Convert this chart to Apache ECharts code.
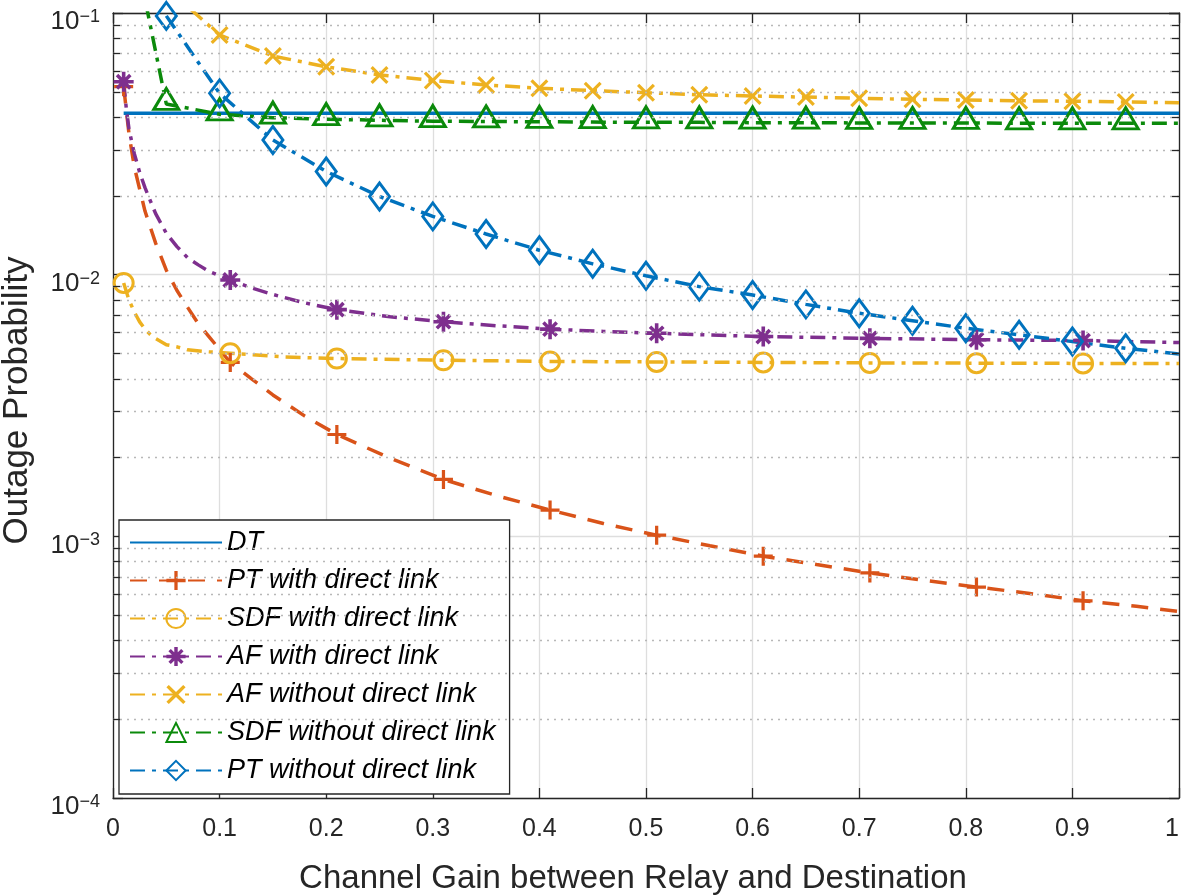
<!DOCTYPE html>
<html><head><meta charset="utf-8">
<script src="https://cdn.jsdelivr.net/npm/echarts@6/dist/echarts.min.js"></script>
<style>html,body{margin:0;padding:0;background:#fff}#c{width:1181px;height:895px}</style>
</head><body><div id="c"></div>
<script>
// ---------- tick values ----------
const xTicks = [0, 0.1, 0.2, 0.3, 0.4, 0.5, 0.6, 0.7, 0.8, 0.9, 1];
const yMajorTicks = [1e-4, 1e-3, 1e-2, 1e-1];
const yMinorTicks = [2e-4,3e-4,4e-4,5e-4,6e-4,7e-4,8e-4,9e-4,
                     2e-3,3e-3,4e-3,5e-3,6e-3,7e-3,8e-3,9e-3,
                     2e-2,3e-2,4e-2,5e-2,6e-2,7e-2,8e-2,9e-2];

// ---------- series data ----------
const dtX = [0.01, 1.0];
const dtY = [0.0414, 0.0414];

const ptWithX = [0.01,0.015,0.02,0.03,0.04,0.05,0.06,0.07,0.08,0.09,0.11,0.13,0.15,0.18,0.21,0.26,0.31,0.36,0.41,0.46,0.51,0.56,0.61,0.66,0.71,0.76,0.81,0.86,0.91,0.96,1.0];
const ptWithY = [0.0523,0.0345,0.0258,0.0175,0.0132,0.0104,0.0087,0.0075,0.0065,0.0058,0.00462,0.0040,0.00347,0.00288,0.00245,0.00199,0.00165,0.00143,0.00126,0.00112,0.00101,0.00092,0.00084,0.00078,0.000725,0.00068,0.00064,0.000605,0.000567,0.00054,0.000516];
const ptWithMarks = [0.01,0.11,0.21,0.31,0.41,0.51,0.61,0.71,0.81,0.91];

const sdfWithX = [0.01,0.015,0.02,0.025,0.03,0.035,0.04,0.05,0.06,0.07,0.09,0.11,0.16,0.21,0.31,0.41,0.51,0.61,0.71,0.81,0.91,1.0];
const sdfWithY = [0.0093,0.0080,0.0072,0.0066,0.0062,0.0059,0.0057,0.0054,0.0053,0.00516,0.00507,0.00501,0.00485,0.00478,0.00471,0.00466,0.00464,0.00462,0.0046,0.00459,0.00458,0.00458];
const sdfWithMarks = [0.01,0.11,0.21,0.31,0.41,0.51,0.61,0.71,0.81,0.91];

const afWithX = [0.01,0.0125,0.015,0.02,0.025,0.03,0.04,0.05,0.06,0.07,0.08,0.09,0.11,0.13,0.15,0.18,0.21,0.26,0.31,0.36,0.41,0.46,0.51,0.61,0.71,0.81,0.91,1.0];
const afWithY = [0.0546,0.043,0.036,0.029,0.0246,0.0215,0.0171,0.0144,0.0128,0.0116,0.0109,0.0103,0.00954,0.0089,0.0084,0.0078,0.00735,0.0069,0.00661,0.00638,0.00619,0.00607,0.00597,0.0058,0.00571,0.00564,0.0056,0.0055];
const afWithMarks = [0.01,0.11,0.21,0.31,0.41,0.51,0.61,0.71,0.81,0.91];

const afWithoutX = [0.05,0.1,0.15,0.2,0.25,0.3,0.35,0.4,0.45,0.5,0.55,0.6,0.65,0.7,0.75,0.8,0.85,0.9,0.95,1.0];
const afWithoutY = [0.125,0.0824,0.0685,0.0623,0.058,0.0552,0.0531,0.0516,0.0505,0.0496,0.0487,0.0482,0.0477,0.0472,0.0468,0.0465,0.0462,0.046,0.0457,0.0454];
const afWithoutMarks = [0.1,0.15,0.2,0.25,0.3,0.35,0.4,0.45,0.5,0.55,0.6,0.65,0.7,0.75,0.8,0.85,0.9,0.95];

const sdfWithoutX = [0,0.05,0.1,0.15,0.2,0.25,0.3,0.35,0.4,0.45,0.5,0.55,0.6,0.65,0.7,0.75,0.8,0.85,0.9,0.95,1.0];
const sdfWithoutY = [0.45,0.0449,0.0410,0.0398,0.0393,0.0389,0.0386,0.0385,0.0384,0.0383,0.0382,0.0382,0.0381,0.0381,0.0380,0.0380,0.0380,0.0379,0.0379,0.0379,0.0379];
const sdfWithoutMarks = [0.05,0.1,0.15,0.2,0.25,0.3,0.35,0.4,0.45,0.5,0.55,0.6,0.65,0.7,0.75,0.8,0.85,0.9,0.95];

const ptWithoutX = [0.05,0.1,0.15,0.2,0.25,0.3,0.35,0.4,0.45,0.5,0.55,0.6,0.65,0.7,0.75,0.8,0.85,0.9,0.95,1.0];
const ptWithoutY = [0.0975,0.0493,0.0327,0.0248,0.0199,0.0167,0.0143,0.0124,0.0110,0.0099,0.0090,0.00836,0.0077,0.00712,0.00667,0.00624,0.00589,0.00555,0.00523,0.00498];
const ptWithoutMarks = [0.05,0.1,0.15,0.2,0.25,0.3,0.35,0.4,0.45,0.5,0.55,0.6,0.65,0.7,0.75,0.8,0.85,0.9,0.95];

const seriesNames = ['DT','PT with direct link','SDF with direct link','AF with direct link',
  'AF without direct link','SDF without direct link','PT without direct link'];

// ---------- styles ----------
const FONT = 'Liberation Sans, Arial, Helvetica, sans-serif';
const AX = '#262626';
const LW = 3.5;
const PLUS = 'path://M-10,-1.7 L-1.7,-1.7 L-1.7,-10 L1.7,-10 L1.7,-1.7 L10,-1.7 L10,1.7 L1.7,1.7 L1.7,10 L-1.7,10 L-1.7,1.7 L-10,1.7 Z';
const XMARK = 'path://M-8,-6 L-6,-8 L0,-2 L6,-8 L8,-6 L2,0 L8,6 L6,8 L0,2 L-6,8 L-8,6 L-2,0 Z';
const STAR = 'path://M-10,-1.8 L-1.8,-1.8 L-1.8,-10 L1.8,-10 L1.8,-1.8 L10,-1.8 L10,1.8 L1.8,1.8 L1.8,10 L-1.8,10 L-1.8,1.8 L-10,1.8 Z ' +
             'M-7.9,-5.4 L-5.4,-7.9 L0,-2.5 L5.4,-7.9 L7.9,-5.4 L2.5,0 L7.9,5.4 L5.4,7.9 L0,2.5 L-5.4,7.9 L-7.9,5.4 L-2.5,0 Z';
const DASH = [17, 12];
const DASHDOT = [15, 7, 4, 7];

function isMark(x, marks) { return marks.some(m => Math.abs(m - x) < 1e-9); }

function makeSeries(name, xs, ys, marks, color, dash, symbol, size, hollow, offset) {
  return {
    name, type: 'line', xAxisIndex: 0, yAxisIndex: 0,
    data: xs.map((x, i) => ({ value: [x, ys[i]], symbol: isMark(x, marks) ? symbol : 'none' })),
    symbol: symbol, symbolSize: size, symbolOffset: offset || [0, 0],
    showSymbol: true, showAllSymbol: true, clip: true, silent: true,
    lineStyle: { color: color, width: LW, type: dash },
    itemStyle: hollow ? { color: 'rgba(0,0,0,0)', borderColor: color, borderWidth: 3 }
                      : { color: color, borderColor: color, borderWidth: 0 },
    emphasis: { disabled: true }
  };
}

const minorGrid = yMinorTicks.map(v => [{ coord: [0, v] }, { coord: [1, v] }]);
const minorTickL = yMinorTicks.map(v => [{ coord: [0, v] }, { coord: [0.0066, v] }]);
const minorTickR = yMinorTicks.map(v => [{ coord: [0.9934, v] }, { coord: [1, v] }]);

const series = [
  { name: '_grid', type: 'line', data: [], silent: true,
    markLine: { silent: true, symbol: ['none','none'], label: { show: false }, animation: false,
      lineStyle: { color: '#b8b8b8', width: 1.3, type: [2, 5] }, data: minorGrid } },
  { name: '_ticks', type: 'line', data: [], silent: true, z: 5,
    markLine: { silent: true, symbol: ['none','none'], label: { show: false }, animation: false,
      lineStyle: { color: AX, width: 1.3, type: 'solid' }, data: minorTickL.concat(minorTickR) } },
  Object.assign(makeSeries(seriesNames[0], dtX, dtY, [], '#0072BD', 'solid', 'circle', 1, false),
    { itemStyle: { color: 'rgba(0,0,0,0)', borderColor: 'rgba(0,0,0,0)', borderWidth: 0 } }),
  makeSeries(seriesNames[1], ptWithX, ptWithY, ptWithMarks, '#D95319', DASH, PLUS, 19, false),
  makeSeries(seriesNames[2], sdfWithX, sdfWithY, sdfWithMarks, '#EDB120', DASHDOT, 'circle', 19, true),
  makeSeries(seriesNames[3], afWithX, afWithY, afWithMarks, '#7E2F8E', DASHDOT, STAR, 20, false),
  makeSeries(seriesNames[4], afWithoutX, afWithoutY, afWithoutMarks, '#EDB120', DASHDOT, XMARK, 18, false),
  makeSeries(seriesNames[5], sdfWithoutX, sdfWithoutY, sdfWithoutMarks, '#0B8A0B', DASHDOT, 'triangle', [25, 21], true, [0, -5]),
  makeSeries(seriesNames[6], ptWithoutX, ptWithoutY, ptWithoutMarks, '#0072BD', DASHDOT, 'diamond', [20, 27], true)
];

const chart = echarts.init(document.getElementById('c'), null, { renderer: 'canvas' });
chart.setOption({
  animation: false,
  backgroundColor: '#fff',
  textStyle: { fontFamily: FONT },
  grid: { left: 113, right: 2, top: 13, bottom: 97, containLabel: false, outerBoundsMode: 'none' },
  xAxis: [
    { type: 'value', min: 0, max: 1, interval: 0.1, position: 'bottom',
      name: 'Channel Gain between Relay and Destination', nameLocation: 'middle', nameGap: 64,
      nameTextStyle: { fontFamily: FONT, fontSize: 33, color: AX, padding: [0, 26, 0, 0] },
      axisLine: { show: true, onZero: false, lineStyle: { color: AX, width: 1.3 } },
      axisTick: { show: true, inside: true, length: 10, lineStyle: { color: AX, width: 1.3 } },
      axisLabel: { fontFamily: FONT, fontSize: 25, color: AX, margin: 19, alignMaxLabel: 'right',
        formatter: v => { const t = xTicks.find(k => Math.abs(k - v) < 1e-9); return t === undefined ? '' : String(t); } },
      splitLine: { show: true, lineStyle: { color: '#dedede', width: 1.3 } } },
    { type: 'value', min: 0, max: 1, interval: 0.1, position: 'top',
      axisLine: { show: true, onZero: false, lineStyle: { color: AX, width: 1.3 } },
      axisTick: { show: true, inside: true, length: 10, lineStyle: { color: AX, width: 1.3 } },
      axisLabel: { show: false }, splitLine: { show: false } }
  ],
  yAxis: [
    { type: 'log', logBase: 10, min: yMajorTicks[0], max: yMajorTicks[yMajorTicks.length - 1], position: 'left',
      name: 'Outage Probability', nameLocation: 'middle', nameGap: 78, nameRotate: 90,
      nameTextStyle: { fontFamily: FONT, fontSize: 35, color: AX, padding: [0, 0, 0, 10] },
      axisLine: { show: true, onZero: false, lineStyle: { color: AX, width: 1.3 } },
      axisTick: { show: true, inside: true, length: 10, lineStyle: { color: AX, width: 1.3 } },
      axisLabel: { fontFamily: FONT, color: AX, margin: 13, padding: [18, 0, 0, 0],
        formatter: v => '{b|10}{sup|' + String(Math.round(Math.log10(v))).replace('-', '\u2212') + '}',
        rich: {
          b: { fontFamily: FONT, fontSize: 26, color: AX, lineHeight: 26, padding: [12, 0, 0, 0], verticalAlign: 'bottom' },
          sup: { fontFamily: FONT, fontSize: 18, color: AX, lineHeight: 18, padding: [0, 0, 9, 0], verticalAlign: 'bottom' }
        } },
      splitLine: { show: true, lineStyle: { color: '#dedede', width: 1.3 } } },
    { type: 'log', logBase: 10, min: yMajorTicks[0], max: yMajorTicks[yMajorTicks.length - 1], position: 'right',
      axisLine: { show: true, onZero: false, lineStyle: { color: AX, width: 1.3 } },
      axisTick: { show: true, inside: true, length: 10, lineStyle: { color: AX, width: 1.3 } },
      axisLabel: { show: false }, splitLine: { show: false } }
  ],
  legend: {
    data: seriesNames, orient: 'vertical', left: 119, top: 520,
    itemWidth: 92, itemHeight: 24, itemGap: 11,
    padding: [9, 14, 10, 10],
    backgroundColor: '#fff', borderColor: AX, borderWidth: 1.3, borderRadius: 0,
    textStyle: { fontFamily: FONT, fontSize: 27, fontStyle: 'italic', color: '#000' },
    selectedMode: false
  },
  series: series
});
</script>
</body></html>
